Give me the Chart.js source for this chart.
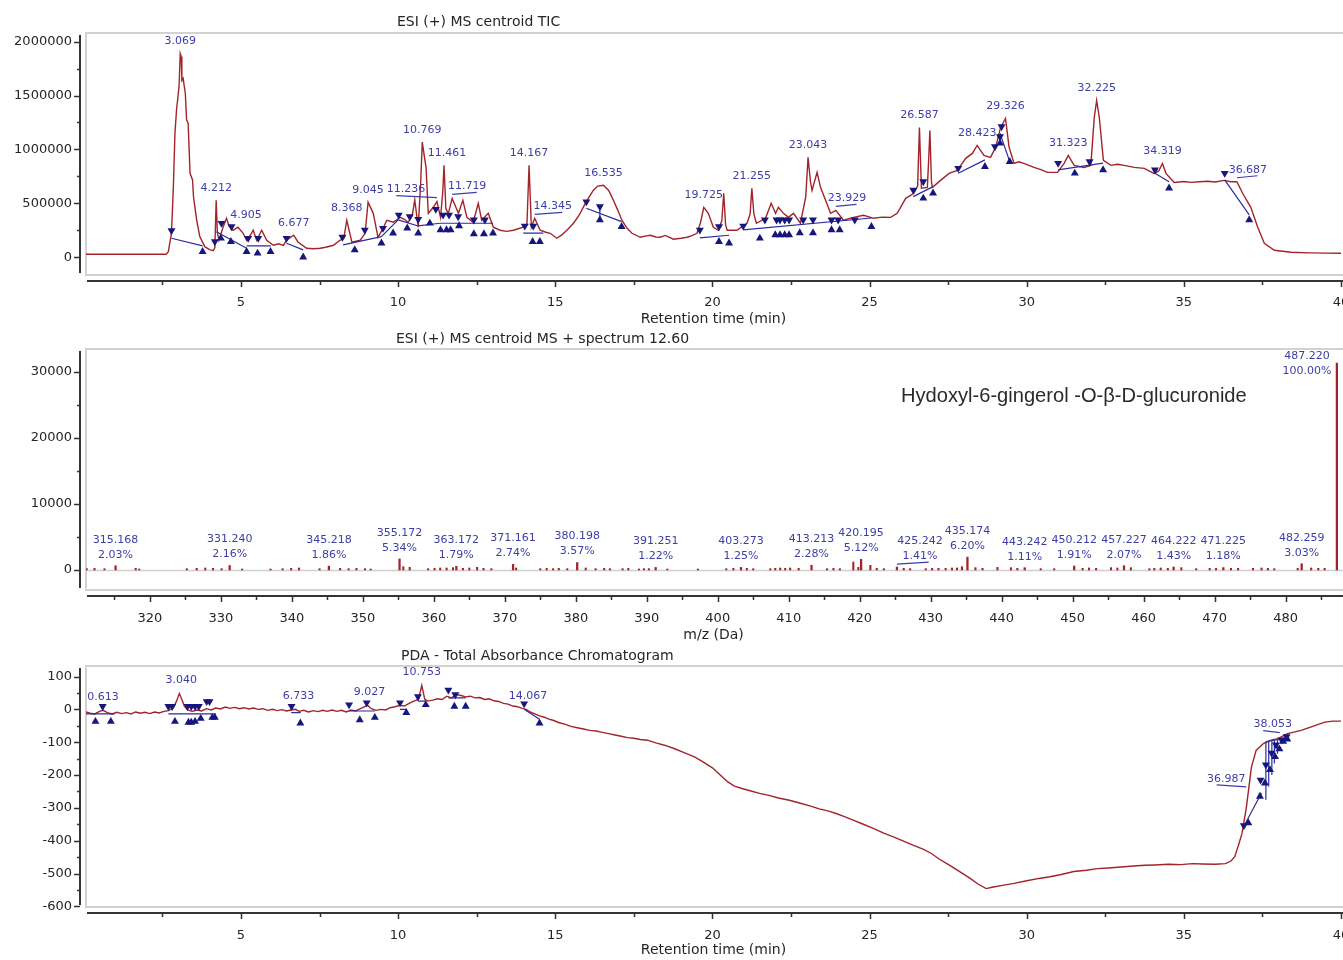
<!DOCTYPE html>
<html>
<head>
<meta charset="utf-8">
<script src="https://cdn.jsdelivr.net/npm/chart.js@4.4.1/dist/chart.umd.min.js"></script>
<style>
  html, body { margin: 0; padding: 0; background: #fff; width: 1343px; height: 960px; overflow: hidden; }
  canvas { position: absolute; left: 0; }
  #tic { top: 0; }
  #ms  { top: 330px; }
  #pda { top: 645px; }
</style>
</head>
<body>
<canvas id="tic" width="1380" height="330"></canvas>
<canvas id="ms" width="1380" height="315"></canvas>
<canvas id="pda" width="1380" height="315"></canvas>
<script>
// ===== ESI (+) MS centroid TIC =====
const ticTime = [0.07, 0.6, 1.2, 1.8, 2.4, 2.62, 2.69, 2.79, 2.85, 2.9, 2.95, 3.03, 3.069, 3.1, 3.12, 3.16, 3.23, 3.27, 3.32, 3.38,
  3.46, 3.49, 3.59, 3.69, 3.85, 4.0, 4.12, 4.17, 4.212, 4.25, 4.3, 4.43, 4.54, 4.62, 4.75, 4.905, 5.07, 5.18, 5.3, 5.39,
  5.5, 5.66, 5.82, 6.03, 6.2, 6.35, 6.45, 6.677, 6.82, 7.09, 7.3, 7.52, 7.7, 7.94, 8.15, 8.27, 8.368, 8.53, 8.79, 8.95,
  9.045, 9.21, 9.36, 9.5, 9.64, 9.85, 10.06, 10.2, 10.32, 10.45, 10.53, 10.64, 10.72, 10.769, 10.84, 10.89, 10.96, 11.12, 11.236, 11.35,
  11.42, 11.461, 11.52, 11.6, 11.719, 11.92, 12.06, 12.19, 12.39, 12.55, 12.66, 12.87, 13.03, 13.25, 13.45, 13.67, 13.98, 14.1, 14.167, 14.24,
  14.345, 14.52, 14.7, 14.84, 15.05, 15.2, 15.37, 15.58, 15.75, 15.89, 16.05, 16.21, 16.35, 16.535, 16.7, 16.85, 17.0, 17.12, 17.28, 17.44,
  17.71, 17.9, 18.03, 18.2, 18.34, 18.5, 18.76, 19.0, 19.19, 19.35, 19.51, 19.62, 19.725, 19.87, 20.03, 20.19, 20.3, 20.36, 20.42, 20.47,
  20.78, 21.1, 21.2, 21.255, 21.32, 21.4, 21.69, 21.87, 22.01, 22.1, 22.26, 22.42, 22.58, 22.8, 22.97, 23.043, 23.12, 23.17, 23.33, 23.44,
  23.6, 23.76, 23.929, 24.17, 24.49, 24.81, 25.13, 25.4, 25.67, 25.88, 26.15, 26.41, 26.53, 26.587, 26.65, 26.84, 26.88, 26.92, 26.97, 27.0,
  27.26, 27.53, 27.79, 28.06, 28.27, 28.423, 28.64, 28.85, 29.01, 29.17, 29.326, 29.44, 29.6, 29.75, 29.91, 30.23, 30.45, 30.66, 30.98, 31.19,
  31.323, 31.51, 31.82, 32.04, 32.15, 32.225, 32.31, 32.44, 32.68, 32.9, 33.1, 33.42, 33.74, 34.05, 34.2, 34.319, 34.43, 34.69, 35.0, 35.22,
  35.5, 35.75, 36.0, 36.28, 36.5, 36.687, 36.87, 37.13, 37.35, 37.56, 37.88, 38.41, 39.0, 39.5, 40];
const ticIntensity = [28000, 27000, 28000, 27000, 28000, 28000, 52000, 223000, 655000, 1150000, 1366000, 1583000, 1889000, 1860000, 1640000, 1660000, 1521000, 1274000, 1243000, 779000,
  717000, 562000, 346000, 191000, 98000, 70000, 61000, 90000, 528000, 230000, 157000, 278000, 361000, 290000, 250000, 278000, 222000, 157000, 205000, 250000,
  157000, 250000, 157000, 111000, 125000, 110000, 157000, 204000, 139000, 83000, 78000, 83000, 92000, 111000, 157000, 175000, 343000, 139000, 157000, 222000,
  510000, 407000, 185000, 255000, 343000, 324000, 370000, 352000, 324000, 385000, 531000, 278000, 700000, 1068000, 926000, 833000, 407000, 463000, 516000, 370000,
  600000, 852000, 450000, 407000, 546000, 407000, 528000, 370000, 324000, 500000, 343000, 407000, 278000, 250000, 240000, 250000, 278000, 310000, 852000, 278000,
  361000, 250000, 232000, 222000, 176000, 205000, 250000, 315000, 385000, 463000, 545000, 620000, 660000, 667000, 620000, 528000, 430000, 343000, 270000, 222000,
  185000, 198000, 204000, 188000, 185000, 202000, 167000, 176000, 185000, 200000, 222000, 320000, 463000, 407000, 278000, 250000, 340000, 593000, 300000, 250000,
  250000, 315000, 400000, 639000, 400000, 315000, 361000, 500000, 407000, 463000, 407000, 370000, 407000, 315000, 560000, 926000, 700000, 620000, 787000, 648000,
  528000, 407000, 435000, 343000, 370000, 389000, 361000, 372000, 370000, 407000, 546000, 593000, 660000, 1204000, 640000, 648000, 900000, 1176000, 700000, 648000,
  713000, 778000, 806000, 917000, 963000, 1037000, 944000, 926000, 1019000, 1204000, 1287000, 1019000, 870000, 885000, 870000, 833000, 812000, 787000, 787000, 870000,
  944000, 852000, 833000, 852000, 1296000, 1454000, 1296000, 898000, 852000, 862000, 852000, 833000, 824000, 778000, 800000, 870000, 778000, 694000, 702000, 694000,
  700000, 704000, 698000, 713000, 700000, 700000, 593000, 463000, 278000, 130000, 65000, 46000, 40000, 38000, 37000];
const ticPeakRt = ['3.069', '4.212', '4.905', '6.677', '8.368', '9.045', '10.769', '11.236', '11.461', '11.719', '14.167', '14.345',
  '16.535', '19.725', '21.255', '23.043', '23.929', '26.587', '28.423', '29.326', '31.323', '32.225', '34.319', '36.687'];
// peak start (▼) and end (▲) flags
const ticStartT = [2.79, 4.17, 4.38, 4.7, 5.23, 5.55, 6.45, 8.23, 8.94, 9.52, 10.02, 10.37, 10.64, 11.2, 11.43, 11.62, 11.91, 12.41, 12.76,
  14.03, 14.3, 15.99, 16.42, 19.6, 20.21, 20.98, 21.67, 22.04, 22.15, 22.3, 22.44, 22.89, 23.2, 23.79, 24.0, 24.53,
  26.39, 26.71, 27.82, 28.99, 29.15, 29.2, 31.0, 32.0, 34.08, 36.3];
const ticStartV = [247000, 145000, 315000, 284000, 176000, 176000, 176000, 186000, 253000, 269000, 392000, 377000, 352000, 445000, 392000, 392000, 377000, 346000, 346000,
  290000, 290000, 515000, 470000, 253000, 284000, 290000, 346000, 346000, 346000, 346000, 346000, 346000, 346000, 346000, 346000, 346000,
  624000, 701000, 826000, 1026000, 1119000, 1211000, 872000, 887000, 810000, 779000];
const ticEndT = [3.78, 4.36, 4.68, 5.18, 5.53, 5.94, 6.98, 8.62, 9.47, 9.84, 10.29, 10.64, 11.01, 11.35, 11.54, 11.67, 11.94, 12.41, 12.73, 13.02,
  14.28, 14.51, 16.42, 17.11, 20.21, 20.53, 21.51, 22.0, 22.15, 22.3, 22.44, 22.78, 23.2, 23.79, 24.05, 25.06,
  26.71, 27.02, 28.67, 29.15, 29.46, 31.53, 32.43, 34.53, 37.08];
const ticEndV = [52000, 176000, 145000, 52000, 37000, 52000, 0, 68000, 130000, 223000, 269000, 223000, 315000, 253000, 253000, 253000, 290000, 216000, 216000, 223000,
  145000, 145000, 346000, 284000, 145000, 130000, 176000, 207000, 207000, 207000, 207000, 225000, 225000, 253000, 253000, 284000,
  547000, 594000, 840000, 1057000, 887000, 779000, 810000, 640000, 346000];
// integration baselines: from (t, v) to (t, v)
const ticBaseFromT = [2.79, 4.22, 5.18, 6.45, 8.25, 9.47, 10.0, 10.64, 11.33, 13.98, 15.99, 16.42, 19.6, 20.98, 26.39, 27.82, 29.15, 31.0, 34.08, 36.3];
const ticBaseFromV = [176000, 237000, 105000, 130000, 114000, 191000, 346000, 290000, 315000, 223000, 454000, 470000, 179000, 253000, 562000, 779000, 1150000, 810000, 779000, 717000];
const ticBaseToT = [3.78, 5.18, 5.95, 6.98, 9.47, 10.0, 10.64, 11.33, 13.02, 14.62, 17.11, 16.42, 20.53, 25.06, 27.02, 28.67, 29.46, 32.43, 34.53, 37.08];
const ticBaseToV = [105000, 83000, 105000, 68000, 191000, 346000, 290000, 315000, 315000, 223000, 330000, 372000, 204000, 364000, 655000, 903000, 887000, 872000, 701000, 392000];

// ===== ESI (+) MS centroid spectrum at 12.60 min =====
const msBaseIntensity = 31300;
const msPeakMz  = [315.168, 331.240, 345.218, 355.172, 363.172, 371.161, 380.198, 391.251, 403.273, 413.213, 420.195,
  425.242, 435.174, 443.242, 450.212, 457.227, 464.222, 471.225, 482.259, 487.220];
const msPeakPct = [2.03, 2.16, 1.86, 5.34, 1.79, 2.74, 3.57, 1.22, 1.25, 2.28, 5.12,
  1.41, 6.20, 1.11, 1.91, 2.07, 1.43, 1.18, 3.03, 100.00];
const msMinorMz = [311.1, 312.2, 313.6, 318.0, 318.5, 325.2, 326.6, 327.8, 328.9, 330.1, 333.0, 337.0, 338.7, 339.9, 341.0, 343.9,
  346.8, 348.0, 349.1, 350.3, 351.1, 355.7, 356.6, 359.2, 360.1, 360.9, 361.8, 362.7, 364.1, 365.0, 366.1, 367.0, 368.1, 371.6,
  375.0, 375.9, 376.8, 377.6, 378.8, 381.4, 382.8, 384.0, 384.8, 386.6, 387.4, 388.9, 389.6, 390.3, 392.9, 397.2, 401.2, 402.2,
  404.1, 405.0, 407.4, 408.1, 408.8, 409.5, 410.2, 411.4, 415.4, 416.3, 417.2, 419.1, 419.8, 421.5, 422.4, 423.4, 426.2, 427.1,
  429.3, 430.2, 431.1, 432.1, 433.0, 433.7, 434.4, 436.3, 437.3, 439.4, 441.3, 442.2, 445.5, 447.4, 451.4, 452.3, 453.3, 455.4,
  456.3, 458.2, 460.8, 461.5, 462.4, 463.4, 465.3, 467.4, 469.3, 470.2, 472.3, 473.3, 475.4, 476.6, 477.5, 478.4, 481.7, 483.6,
  484.6, 485.5];
const msMinorIntensity = [200, 250, 200, 250, 150, 200, 250, 300, 250, 200, 150, 150, 200, 250, 300, 200,
  250, 200, 250, 200, 150, 500, 400, 200, 250, 300, 300, 350, 250, 300, 400, 250, 200, 300,
  200, 250, 200, 250, 200, 300, 200, 250, 200, 200, 250, 150, 200, 200, 150, 150, 200, 250,
  250, 200, 200, 250, 300, 250, 300, 250, 200, 250, 200, 1200, 400, 700, 250, 200, 250, 200,
  200, 250, 250, 250, 300, 300, 500, 350, 250, 400, 350, 250, 200, 200, 250, 300, 250, 350,
  300, 350, 200, 250, 300, 250, 350, 200, 250, 250, 250, 250, 250, 300, 250, 200, 250, 300,
  250, 250];

// ===== PDA - Total Absorbance Chromatogram =====
const pdaTime = [0.07, 0.2, 0.35, 0.5, 0.613, 0.75, 0.9, 1.05, 1.2, 1.35, 1.5, 1.65, 1.8, 1.95, 2.1, 2.25, 2.4, 2.55, 2.7, 2.85,
  2.95, 3.04, 3.12, 3.2, 3.3, 3.45, 3.6, 3.75, 3.9, 4.05, 4.2, 4.35, 4.5, 4.65, 4.8, 4.95, 5.1, 5.25, 5.4, 5.55,
  5.7, 5.85, 6.0, 6.15, 6.3, 6.45, 6.6, 6.733, 6.85, 7.0, 7.15, 7.3, 7.45, 7.6, 7.75, 7.9, 8.05, 8.2, 8.35, 8.5,
  8.65, 8.8, 9.027, 9.15, 9.3, 9.45, 9.6, 9.75, 9.9, 10.05, 10.2, 10.35, 10.5, 10.65, 10.753, 10.85, 10.95, 11.1, 11.25, 11.4,
  11.55, 11.7, 11.85, 12.0, 12.15, 12.3, 12.45, 12.6, 12.75, 12.9, 13.05, 13.2, 13.35, 13.5, 13.65, 13.8, 13.95, 14.067, 14.2, 14.35,
  14.5, 14.65, 14.8, 14.95, 15.1, 15.3, 15.5, 15.7, 15.9, 16.1, 16.3, 16.5, 16.7, 16.9, 17.1, 17.3, 17.5, 17.7, 17.93, 18.2,
  18.5, 18.8, 19.1, 19.43, 19.7, 20.0, 20.25, 20.49, 20.7, 20.94, 21.2, 21.5, 21.8, 22.1, 22.45, 22.8, 23.1, 23.4, 23.7, 23.96,
  24.2, 24.5, 24.8, 25.1, 25.47, 25.8, 26.1, 26.4, 26.7, 26.97, 27.2, 27.5, 27.88, 28.2, 28.45, 28.71, 28.9, 29.23, 29.6, 30.0,
  30.4, 30.74, 31.1, 31.5, 31.9, 32.25, 32.6, 33.0, 33.4, 33.76, 34.1, 34.5, 34.9, 35.27, 35.6, 36.0, 36.32, 36.5, 36.62, 36.75,
  36.85, 36.987, 37.15, 37.3, 37.53, 37.75, 37.98, 38.053, 38.3, 38.73, 39.1, 39.48, 39.75, 40];
const pdaAbsorbance = [-8, -12, -14, -6, -3, -10, -14, -9, -13, -10, -14, -8, -12, -9, -13, -8, -11, -6, -4, 5,
  25, 48, 30, 10, -2, -6, -2, -5, 2, -2, 4, 1, 7, 3, 6, 2, 5, 1, 4, 0,
  2, -3, 0, -4, -1, -5, -2, 0, -6, -3, -8, -4, -7, -3, -6, -2, -6, -3, -8, -2,
  -5, 2, 12, 2, -3, 0, -2, 5, 8, 12, 10, 18, 25, 30, 73, 30, 25, 28, 32, 30,
  40, 35, 45, 42, 38, 40, 35, 36, 30, 32, 26, 24, 18, 16, 10, 8, 3, 0, -8, -14,
  -20, -24, -30, -34, -40, -45, -52, -56, -60, -64, -66, -70, -74, -78, -82, -86, -88, -92, -94, -102,
  -110, -120, -132, -145, -160, -178, -200, -221, -234, -241, -248, -256, -262, -270, -277, -286, -294, -303, -310, -318,
  -327, -338, -350, -362, -378, -390, -402, -414, -426, -439, -455, -472, -495, -515, -532, -546, -542, -536, -530, -522,
  -515, -510, -503, -494, -490, -485, -483, -480, -477, -475, -474, -472, -473, -470, -471, -472, -470, -462, -449, -410,
  -378, -300, -176, -125, -104, -95, -89, -86, -74, -64, -52, -39, -36, -36];
const pdaPeakRt = ['0.613', '3.040', '6.733', '9.027', '10.753', '14.067', '36.987', '38.053'];
const pdaStartT = [0.6, 2.69, 2.81, 3.3, 3.42, 3.54, 3.66, 3.91, 4.0, 6.61, 8.44, 9.0, 10.06, 10.63, 11.6, 11.82, 14.01,
  36.91, 37.44, 37.61, 37.79, 37.93, 38.11, 38.27];
const pdaStartV = [9, 9, 9, 9, 9, 9, 9, 24, 24, 9, 14, 20, 20, 39, 59, 45, 17,
  -354, -215, -169, -133, -108, -93, -83];
const pdaEndT = [0.37, 0.86, 2.9, 3.33, 3.42, 3.54, 3.72, 4.09, 4.17, 6.89, 8.78, 9.26, 10.26, 10.88, 11.79, 12.15, 14.5,
  37.05, 37.42, 37.58, 37.74, 37.9, 38.04, 38.16, 38.29];
const pdaEndV = [-37, -37, -37, -40, -40, -37, -28, -25, -25, -42, -32, -25, -10, 14, 9, 9, -42,
  -346, -265, -225, -184, -144, -121, -98, -91];
const pdaBaseFromT = [0.07, 2.69, 6.6, 8.44, 10.06, 10.63, 11.6, 14.01, 36.94, 37.61, 37.7, 37.8, 37.88, 37.98, 37.61];
const pdaBaseFromV = [-14, -14, -10, -5, 0, 25, 35, 0, -351, -98, -96, -95, -93, -92, -98];
const pdaBaseToT = [0.98, 4.2, 6.9, 9.26, 10.26, 10.88, 12.15, 14.5, 37.47, 37.61, 37.7, 37.8, 37.88, 37.98, 38.29];
const pdaBaseToV = [-14, -14, -10, -5, 0, 25, 35, -30, -255, -275, -235, -200, -165, -135, -88];

// ---------- styling ----------
const TRACE = '#a3232a';
const FLAG = '#16167c';
const BASELINE = '#2b2ba0';
const LABEL = '#3d3da8';
const INK = '#262626';
const TICK_FONT = { family: 'DejaVu Sans', size: 13 };

const points = (xs, ys) => xs.map((x, i) => ({ x, y: ys[i] }));
function segments(t1, v1, t2, v2) {
  const out = [];
  t1.forEach((t, i) => { out.push({ x: t, y: v1[i] }, { x: t2[i], y: v2[i] }, { x: t2[i], y: null }); });
  return out;
}
function flagDatasets(sT, sV, eT, eV) {
  return [
    { data: points(sT, sV), showLine: false, pointStyle: 'triangle', rotation: 180, pointRadius: 4.6,
      pointBackgroundColor: FLAG, pointBorderColor: FLAG, pointBorderWidth: 0, order: 0 },
    { data: points(eT, eV), showLine: false, pointStyle: 'triangle', rotation: 0, pointRadius: 4.6,
      pointBackgroundColor: FLAG, pointBorderColor: FLAG, pointBorderWidth: 0, order: 0 }
  ];
}
function peakItems(rts, times, values, shifts) {
  return rts.map(s => {
    const t = parseFloat(s);
    const i = times.indexOf(t);
    const sh = shifts[s] || [0, 0, false];
    return { x: t, y: values[i], lines: [s], dx: sh[0], dy: sh[1], leader: sh[2] };
  });
}

// frame, axis lines, tick marks and titles
const framePlugin = {
  id: 'frame',
  beforeDatasetsDraw(chart, args, o) {
    const { ctx, chartArea: a } = chart;
    ctx.save();
    ctx.strokeStyle = '#d2d2d2';
    ctx.lineWidth = 2;
    ctx.strokeRect(a.left, a.top, a.right - a.left + 20, a.bottom - a.top);
    if (o.zeroLine) {
      const y0 = Math.round(chart.scales.y.getPixelForValue(0)) + 0.5;
      ctx.strokeStyle = '#d0d0d0';
      ctx.lineWidth = 1.5;
      ctx.beginPath(); ctx.moveTo(a.left, y0); ctx.lineTo(a.right + 20, y0); ctx.stroke();
    }
    ctx.restore();
  },
  afterDraw(chart, args, o) {
    const { ctx, chartArea: a, scales: { x, y } } = chart;
    const ax = a.left - 6, ay = a.bottom + 6;
    ctx.save();
    ctx.strokeStyle = '#333';
    ctx.lineWidth = 2;
    ctx.beginPath();
    ctx.moveTo(ax, a.top + 2); ctx.lineTo(ax, a.bottom - 2);
    ctx.moveTo(a.left + 1, ay); ctx.lineTo(a.right + 40, ay);
    ctx.stroke();
    ctx.lineWidth = 1.5;
    ctx.beginPath();
    y.ticks.forEach(t => {
      const py = Math.round(y.getPixelForValue(t.value)) + 0.5;
      const len = t.label !== '' ? 6 : 3;
      ctx.moveTo(ax - len, py); ctx.lineTo(ax, py);
    });
    x.ticks.forEach(t => {
      const px = Math.round(x.getPixelForValue(t.value)) + 0.5;
      const len = t.label !== '' ? 6 : 4;
      ctx.moveTo(px, ay); ctx.lineTo(px, ay + len);
    });
    ctx.stroke();
    ctx.fillStyle = INK;
    ctx.font = '14px "DejaVu Sans"';
    ctx.textBaseline = 'middle';
    ctx.textAlign = 'left';
    ctx.fillText(o.title, o.titleX, o.titleY);
    ctx.textAlign = 'center';
    ctx.fillText(o.axisTitle, (a.left + a.right) / 2, o.axisTitleY);
    if (o.note) {
      ctx.fillStyle = '#2a2a2a';
      ctx.textAlign = 'left';
      ctx.font = '18px "Liberation Sans"';
      const w = ctx.measureText(o.note.text).width;
      const size = 18 * o.note.width / w;
      ctx.font = size.toFixed(2) + 'px "Liberation Sans"';
      ctx.fillText(o.note.text, o.note.x, o.note.y);
    }
    ctx.restore();
  }
};

// peak annotations (retention times, m/z and relative abundance)
const labelPlugin = {
  id: 'peakText',
  afterDatasetsDraw(chart, args, o) {
    const { ctx, scales: { x, y } } = chart;
    ctx.save();
    ctx.font = '11px "DejaVu Sans"';
    ctx.fillStyle = LABEL;
    ctx.strokeStyle = LABEL;
    ctx.lineWidth = 1.2;
    ctx.textAlign = 'center';
    ctx.textBaseline = 'middle';
    o.items.forEach(it => {
      const px = x.getPixelForValue(it.x);
      const py = y.getPixelForValue(it.y);
      const lx = px + (it.dx || 0);
      const ly = py - o.gap + (it.dy || 0);
      const n = it.lines.length;
      it.lines.forEach((s, k) => ctx.fillText(s, lx, ly - (n - 1 - k) * o.lineStep));
      if (it.leader) {
        const sgn = Math.sign(it.dx) || 1;
        const w = ctx.measureText(it.lines[n - 1]).width;
        ctx.beginPath();
        ctx.moveTo(px, ly + 8);
        ctx.lineTo(lx + sgn * w * 0.25, ly + 6);
        ctx.stroke();
      }
    });
    ctx.restore();
  }
};

// regular tick positions every `step`, labelled every `major`
function stepTicks(step) {
  return s => {
    const out = [];
    for (let k = Math.ceil(s.min / step - 1e-9); k * step <= s.max + 1e-9; k++) {
      out.push({ value: +(k * step).toFixed(6) });
    }
    s.ticks = out;
  };
}
function axisTicks(major, pad) {
  return {
    autoSkip: false, maxRotation: 0, minRotation: 0, padding: pad,
    font: TICK_FONT, color: INK,
    callback: v => (Math.abs(v / major - Math.round(v / major)) < 1e-6 ? String(Math.round(v)) : '')
  };
}
function fixX(height) {
  return s => { s.height = height; s.paddingLeft = 0; s.paddingRight = 0; s.paddingTop = 0; s.paddingBottom = 0; };
}
function fixY(s) { s.width = 86; s.paddingLeft = 0; s.paddingRight = 0; s.paddingTop = 0; s.paddingBottom = 0; }

function baseOptions(p) {
  return {
    responsive: false,
    animation: false,
    devicePixelRatio: 1,
    layout: { padding: { top: p.top, right: 39, left: 0, bottom: 0 } },
    plugins: {
      legend: { display: false },
      tooltip: { enabled: false },
      frame: p.frame,
      peakText: p.labels
    },
    scales: {
      x: {
        type: 'linear', min: p.xMin, max: p.xMax, offset: false,
        grid: { display: false, drawTicks: false, offset: false }, border: { display: false },
        ticks: axisTicks(p.xMajor, p.xPad),
        afterBuildTicks: stepTicks(p.xStep),
        afterFit: fixX(p.xHeight)
      },
      y: {
        type: 'linear', min: p.yMin, max: p.yMax,
        grid: { display: false, drawTicks: false }, border: { display: false },
        ticks: axisTicks(p.yMajor, 14),
        afterBuildTicks: stepTicks(p.yStep),
        afterFit: fixY
      }
    }
  };
}

const ticShift = {
  '4.905': [8, 0, false], '11.236': [-31, 0, true], '11.461': [3, 0, false], '11.719': [15, 0, true],
  '14.345': [18, 0, true], '23.929': [11, 0, true], '36.687': [11, 0, true]
};
new Chart(document.getElementById('tic'), {
  type: 'line',
  data: {
    datasets: [
      ...flagDatasets(ticStartT, ticStartV, ticEndT, ticEndV),
      { data: segments(ticBaseFromT, ticBaseFromV, ticBaseToT, ticBaseToV), borderColor: BASELINE, borderWidth: 1.2,
        pointRadius: 0, spanGaps: false, order: 1 },
      { data: points(ticTime, ticIntensity), borderColor: TRACE, borderWidth: 1.4, pointRadius: 0, tension: 0, order: 2 }
    ]
  },
  options: baseOptions({
    top: 33, xHeight: 55, xPad: 20, xMin: 0.07, xMax: 40, xStep: 2.5, xMajor: 5,
    yMin: -165000, yMax: 2080000, yStep: 250000, yMajor: 500000,
    frame: { title: 'ESI (+) MS centroid TIC', titleX: 397, titleY: 22, axisTitle: 'Retention time (min)', axisTitleY: 319 },
    labels: { items: peakItems(ticPeakRt, ticTime, ticIntensity, ticShift), gap: 12, lineStep: 15 }
  }),
  plugins: [framePlugin, labelPlugin]
});

const msShift = { '425.242': [23, 0, true], '487.220': [-30, 19, false] };
const msItems = msPeakMz.map((mz, i) => {
  const key = mz.toFixed(3);
  const sh = msShift[key] || [0, 0, false];
  return { x: mz, y: msPeakPct[i] / 100 * msBaseIntensity, lines: [key, msPeakPct[i].toFixed(2) + '%'],
           dx: sh[0], dy: sh[1], leader: sh[2] };
});
new Chart(document.getElementById('ms'), {
  type: 'bar',
  data: {
    datasets: [
      { data: msPeakMz.map((mz, i) => ({ x: mz, y: msPeakPct[i] / 100 * msBaseIntensity })),
        backgroundColor: TRACE, barThickness: 1.6, grouped: false },
      { data: points(msMinorMz, msMinorIntensity), backgroundColor: TRACE, barThickness: 1.4, grouped: false }
    ]
  },
  options: baseOptions({
    top: 19, xHeight: 55, xPad: 21, xMin: 311, xMax: 487.8, xStep: 5, xMajor: 10,
    yMin: -3030, yMax: 33430, yStep: 5000, yMajor: 10000,
    frame: { title: 'ESI (+) MS centroid MS + spectrum 12.60', titleX: 396, titleY: 9, axisTitle: 'm/z (Da)', axisTitleY: 305,
             zeroLine: true,
             note: { text: 'Hydoxyl-6-gingerol -O-β-D-glucuronide', x: 901, y: 66, width: 346 } },
    labels: { items: msItems, gap: 11, lineStep: 15 }
  }),
  plugins: [framePlugin, labelPlugin]
});

const pdaShift = {
  '3.040': [2, 0, false], '6.733': [3, 0, false], '9.027': [2, 0, false], '14.067': [2, 0, false],
  '36.987': [-20, -16, true], '38.053': [-7, 0, true]
};
new Chart(document.getElementById('pda'), {
  type: 'line',
  data: {
    datasets: [
      ...flagDatasets(pdaStartT, pdaStartV, pdaEndT, pdaEndV),
      { data: segments(pdaBaseFromT, pdaBaseFromV, pdaBaseToT, pdaBaseToV), borderColor: BASELINE, borderWidth: 1.2,
        pointRadius: 0, spanGaps: false, order: 1 },
      { data: points(pdaTime, pdaAbsorbance), borderColor: TRACE, borderWidth: 1.4, pointRadius: 0, tension: 0, order: 2 }
    ]
  },
  options: baseOptions({
    top: 21, xHeight: 53, xPad: 21, xMin: 0.07, xMax: 40, xStep: 2.5, xMajor: 5,
    yMin: -602, yMax: 132, yStep: 50, yMajor: 100,
    frame: { title: 'PDA - Total Absorbance Chromatogram', titleX: 401, titleY: 11, axisTitle: 'Retention time (min)', axisTitleY: 305 },
    labels: { items: peakItems(pdaPeakRt, pdaTime, pdaAbsorbance, pdaShift), gap: 13, lineStep: 15 }
  }),
  plugins: [framePlugin, labelPlugin]
});
</script>
</body>
</html>
